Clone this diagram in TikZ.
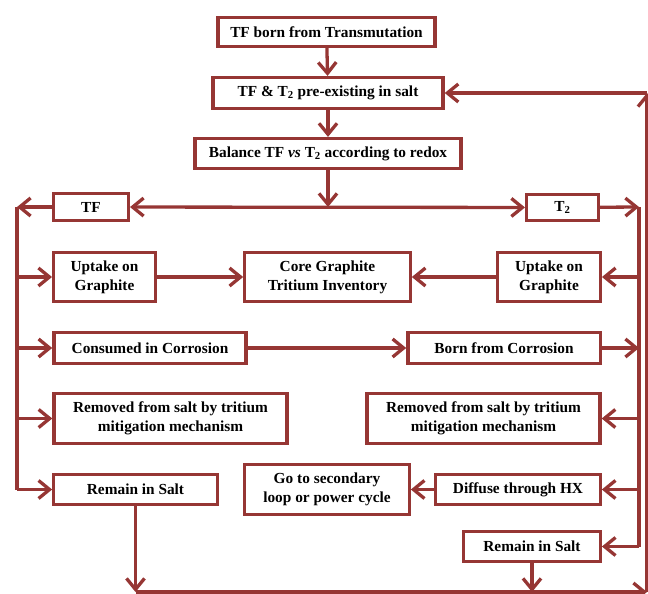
\documentclass[tikz,border=0pt]{standalone}
\usepackage{fontspec}
\setmainfont{Liberation Serif}
\usetikzlibrary{arrows.meta}
\definecolor{flowred}{RGB}{150,54,52}

\begin{document}
\begin{tikzpicture}[x=1bp, y=-1bp, line width=3.3bp, draw=flowred,
    box/.style={draw=flowred, fill=white, align=center, inner sep=0pt,
        font=\fontsize{15.4}{19}\selectfont\bfseries},
    >={Straight Barb[length=11bp, width=18bp]}]
            \useasboundingbox (0,0) rectangle (648,594);

            % top chain
            \node[box, minimum width=218, minimum height=29] (born) at (326.5,32) {TF born from Transmutation};
            \node[box, minimum width=231, minimum height=31] (preex) at (328,93) {TF \& T\textsubscript{2} pre-existing in salt};
            \node[box, minimum width=267, minimum height=30] (balance) at (328,153.5) {Balance TF \textit{vs} T\textsubscript{2} according to redox};
            \node[box, minimum width=75, minimum height=27] (tf) at (91,207) {TF};
            \node[box, minimum width=72, minimum height=26] (ttwo) at (562.5,207.5) {T\textsubscript{2}};

            % left branch
            \node[box, minimum width=102, minimum height=49] (uptl) at (104.5,277) {Uptake on\\Graphite};
            \node[box, minimum width=193, minimum height=31] (cons) at (150,348) {Consumed in Corrosion};
            \node[box, minimum width=234, minimum height=50] (reml) at (170.5,418.5) {Removed from salt by tritium\\mitigation mechanism};
            \node[box, minimum width=164, minimum height=30] (saltl) at (135.5,489.5) {Remain in Salt};

            % middle
            \node[box, minimum width=166, minimum height=49] (core) at (327.5,277) {Core Graphite\\Tritium Inventory};
            \node[box, minimum width=165, minimum height=50] (go) at (327,489.5) {Go to secondary\\loop or power cycle};

            % right branch
            \node[box, minimum width=103, minimum height=49] (uptr) at (549,277) {Uptake on\\Graphite};
            \node[box, minimum width=193, minimum height=31] (bornc) at (504,348) {Born from Corrosion};
            \node[box, minimum width=234, minimum height=50] (remr) at (483.5,418.5) {Removed from salt by tritium\\mitigation mechanism};
            \node[box, minimum width=165, minimum height=30] (diff) at (518,489.5) {Diffuse through HX};
            \node[box, minimum width=137, minimum height=30] (saltr) at (532,546.5) {Remain in Salt};

            \coordinate (split) at (328,207);
            \coordinate (lft) at (17,207);
            \coordinate (rgt) at (639,207);
            \coordinate (bot) at (647,592);
            \coordinate (top) at (647,93);

            \draw[->] (born) -- (preex);
            \draw[->] (preex) -- (balance);
            \draw[->] (balance) -- (split);
            \draw[<->] (tf) -- (ttwo);

            % TF side
            \draw[->] (tf) -- (lft);
            \draw (lft) -- (lft |- saltl);
            \draw[->] (lft |- uptl) -- (uptl);
            \draw[->] (lft |- cons) -- (cons);
            \draw[->] (lft |- reml) -- (reml);
            \draw[->] (lft |- saltl) -- (saltl);

            % T2 side
            \draw[->] (ttwo) -- (rgt);
            \draw (rgt) -- (rgt |- saltr);
            \draw[->] (rgt |- uptr) -- (uptr);
            \draw[->] (bornc) -- (rgt |- bornc);
            \draw[->] (rgt |- remr) -- (remr);
            \draw[->] (rgt |- diff) -- (diff);
            \draw[->] (rgt |- saltr) -- (saltr);

            \draw[->] (uptl) -- (core);
            \draw[->] (uptr) -- (core);
            \draw[->] (cons) -- (bornc);
            \draw[->] (diff) -- (go);

            % back to the salt
            \draw[->] (saltl) -- (saltl |- bot);
            \draw[->] (saltr) -- (saltr |- bot);
            \draw[->] (saltl |- bot) -- (bot);
            \draw[->] (bot) -- (top);
            \draw[->] (top) -- (preex);
        \end{tikzpicture}
\end{document}
